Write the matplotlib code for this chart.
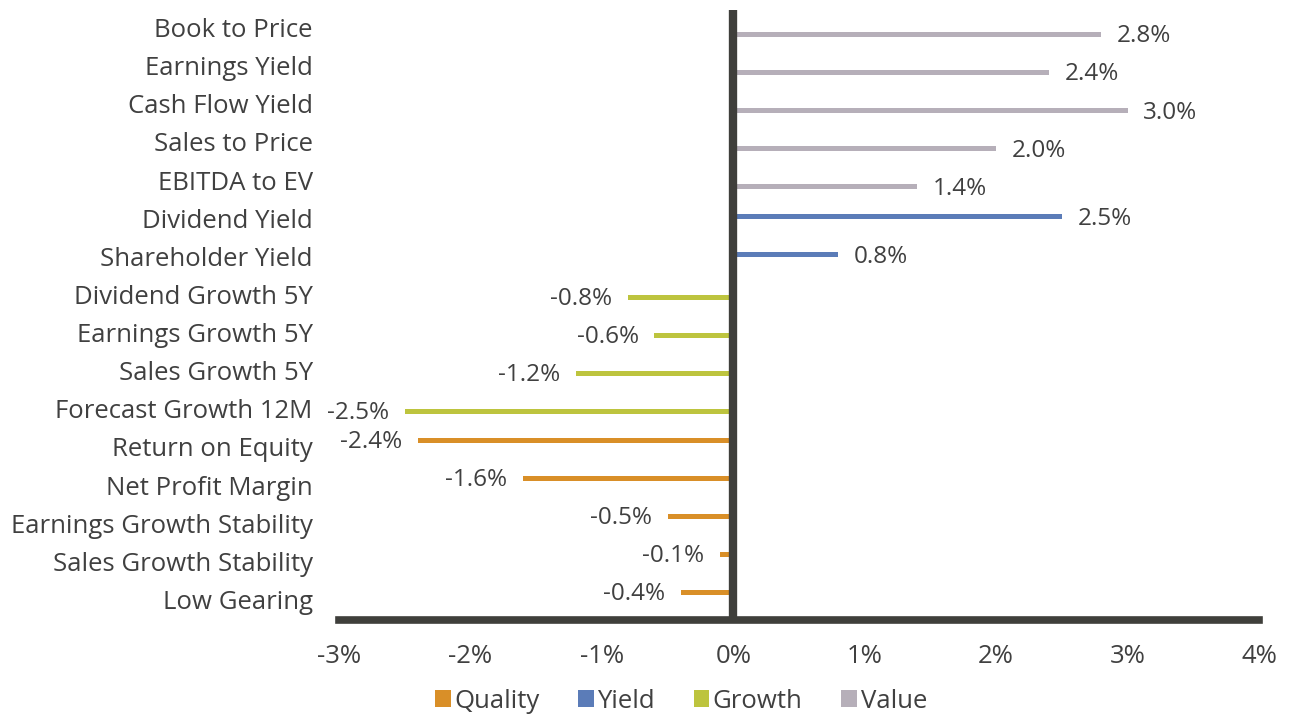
import matplotlib
matplotlib.use("Agg")
import matplotlib.pyplot as plt
from matplotlib.patches import Patch

categories = ["Book to Price", "Earnings Yield", "Cash Flow Yield", "Sales to Price",
              "EBITDA to EV", "Dividend Yield", "Shareholder Yield", "Dividend Growth 5Y",
              "Earnings Growth 5Y", "Sales Growth 5Y", "Forecast Growth 12M",
              "Return on Equity", "Net Profit Margin", "Earnings Growth Stability",
              "Sales Growth Stability", "Low Gearing"]
values = [2.8, 2.4, 3.0, 2.0, 1.4, 2.5, 0.8, -0.8, -0.6, -1.2, -2.5,
          -2.4, -1.6, -0.5, -0.1, -0.4]
groups = ["Value", "Value", "Value", "Value", "Value", "Yield", "Yield",
          "Growth", "Growth", "Growth", "Growth",
          "Quality", "Quality", "Quality", "Quality", "Quality"]
series = ["Quality", "Yield", "Growth", "Value"]
xticks = [-3, -2, -1, 0, 1, 2, 3, 4]
xticklabels = ["-3%", "-2%", "-1%", "0%", "1%", "2%", "3%", "4%"]

colors = {"Quality": "#D98F28", "Yield": "#5B7CB8", "Growth": "#BDC43E", "Value": "#B6AFB9"}
offsets = {"Quality": -0.22, "Yield": -0.08, "Growth": 0.03, "Value": 0.14}

plt.rcParams['font.family'] = ['Open Sans', 'DejaVu Sans']
txt = "#404040"
axc = "#3F3F3B"

fig = plt.figure(figsize=(12.93, 7.15), dpi=100)
ax = fig.add_axes([339/1293, 1 - 620/715, (1259 - 339)/1293, 610/715])

for i, (v, g) in enumerate(zip(values, groups)):
    y = i + offsets[g]
    ax.barh(y, v, height=0.13, color=colors[g], zorder=2)
    if v >= 0:
        ax.text(v + 0.12, y + 0.05, f"{v:.1f}%", ha="left", va="center", fontsize=17.5, color=txt)
    else:
        ax.text(v - 0.12, y + 0.05, f"{v:.1f}%", ha="right", va="center", fontsize=17.5, color=txt)

ax.set_xlim(-3, 4)
ax.set_ylim(15.5, -0.5)
ax.set_yticks([])
ax.set_xticks(xticks)
ax.set_xticklabels(xticklabels, fontsize=18.5, color=txt)
ax.tick_params(axis="x", length=0, pad=17)

for i, c in enumerate(categories):
    ax.text(-3.2, i + 0.04, c, ha="right", va="center", fontsize=18.5, color=txt)

for s in ["top", "right", "left"]:
    ax.spines[s].set_visible(False)
ax.spines["bottom"].set_color(axc)
ax.spines["bottom"].set_linewidth(5.5)
ax.axvline(0, color=axc, linewidth=6, zorder=3)

handles = [Patch(facecolor=colors[s], label=s) for s in series]
fig.legend(handles=handles, loc="center", bbox_to_anchor=(681/1293, 1 - 701/715), ncol=4,
           frameon=False, fontsize=18.5, handlelength=0.6, handleheight=0.6,
           handletextpad=0.15, columnspacing=1.5, labelcolor=txt)

fig.savefig("out.png", dpi=100)
